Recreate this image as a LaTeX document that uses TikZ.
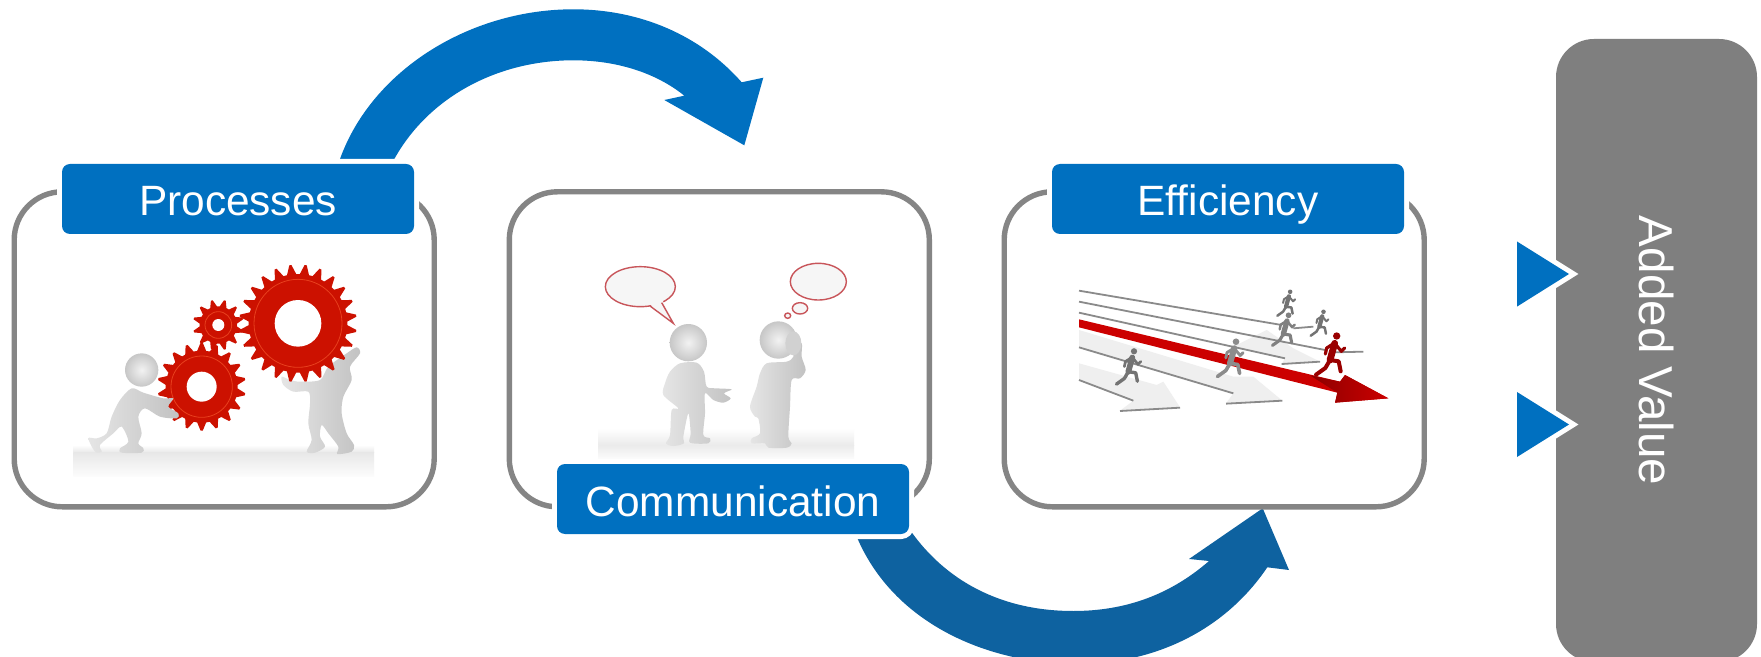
\documentclass[tikz,border=0pt]{standalone}
\usepackage{graphicx}
\usepackage{fontspec}
\setmainfont{Liberation Sans}
\definecolor{bluea}{HTML}{0070C0}
\definecolor{blueb}{HTML}{0E62A0}
\definecolor{grayline}{HTML}{858585}
\definecolor{grayfill}{HTML}{7F7F7F}
\definecolor{gearred}{HTML}{CC1100}
\definecolor{gearlight}{HTML}{E8401E}
\definecolor{bubblered}{HTML}{C8555A}
\definecolor{bubblefill}{HTML}{F6F6F6}
\definecolor{lane}{HTML}{8A8A8A}
\definecolor{laneface}{HTML}{EFEFEF}
\tikzset{
  panel/.style={draw=grayline,line width=2.7pt,rounded corners=24pt,minimum width=210pt,minimum height=157.5pt,inner sep=0pt},
  tag/.style={fill=bluea,text=white,rounded corners=4pt,minimum width=176pt,minimum height=35pt,inner sep=0pt,
    text height=17pt,text depth=0pt,
    preaction={draw=white,line width=5pt},font=\fontsize{21.2}{25}\selectfont},
  valuebox/.style={fill=grayfill,text=white,rounded corners=19pt,minimum width=100.5pt,minimum height=311.5pt,inner sep=0pt,
    font=\fontsize{23.8}{28}\selectfont},
  pointer/.style={fill=bluea,preaction={draw=white,line width=5pt,miter limit=10}},
  figure3d/.style={left color=black!10,right color=black!24,draw=none},
  headball/.style={inner color=black!5,outer color=black!22,draw=none},
  bubble/.style={draw=bubblered,line width=.7pt,fill=bubblefill},
  lanestroke/.style={draw=lane,line width=.9pt},
  zoomA/.style={shift={(0,150)},x=0.16667pt,y=-0.16667pt},
  zoomB/.style={shift={(500,180)},x=0.16667pt,y=-0.16667pt},
  zoomC/.style={shift={(1000,150)},x=0.16667pt,y=-0.16667pt}
}
% cx cy router rroot teeth rhole rring
\newcommand{\cogwheel}[7]{%
  \begin{scope}[shift={(#1,#2)}]
    \fill[gearred,line join=round] (0:#4) \foreach \i in {1,...,#5}{
       -- ({(\i-0.86)*360/#5}:#4) -- ({(\i-0.57)*360/#5}:#3) -- ({(\i-0.43)*360/#5}:#3) -- ({(\i-0.14)*360/#5}:#4) -- ({\i*360/#5}:#4)} -- cycle;
    \draw[gearlight,line width=.4pt] (0,0) circle[radius=#7];
    \fill[white] (0,0) circle[radius=#6];
  \end{scope}}
% x y scale colour
\newcommand{\runner}[4]{%
  \begin{scope}[shift={(#1,#2)},scale=#3]
    \fill[#4] (20,-72) circle[radius=11];
    \draw[#4,line width=#3*3.4pt,line cap=round,line join=round] (14,-50) -- (0,0);
    \draw[#4,line width=#3*2.0pt,line cap=round,line join=round] (0,0) -- (-14,24) -- (-42,44);
    \draw[#4,line width=#3*2.0pt,line cap=round,line join=round] (0,0) -- (26,4) -- (32,34);
    \draw[#4,line width=#3*1.6pt,line cap=round,line join=round] (14,-50) -- (34,-26) -- (44,-36);
    \draw[#4,line width=#3*1.6pt,line cap=round,line join=round] (12,-50) -- (-10,-36) -- (-14,-18);
  \end{scope}}
\begin{document}
\begin{tikzpicture}[x=0.5pt,y=-0.5pt]
\useasboundingbox (0,0) rectangle (1761,657);
\fill[white] (0,0) rectangle (1761,657);
\begin{scope}
\clip (0,0) rectangle (1761,657);
% curved block arrows
\fill[bluea] (340,159) .. controls (372,70) and (470,9.3) .. (573.3,9.3)
   .. controls (640,9.3) and (700,35) .. (741.7,82.3) -- (763.3,77.7) -- (744.3,145.3) -- (664.3,100) -- (684.3,95.7)
   .. controls (655,72) and (615,60.3) .. (573.3,60.3)
   .. controls (500,60.3) and (430,95) .. (394.3,159) -- cycle;
\fill[blueb] (856,535) .. controls (893,625) and (990,664) .. (1077,664)
   .. controls (1155,664) and (1225,630) .. (1267.3,567.3) -- (1289,570) -- (1262.7,508.3) -- (1189,559) -- (1209,561)
   .. controls (1170,595) and (1125,611) .. (1073.3,611)
   .. controls (1000,611) and (945,580) .. (910,530) -- cycle;
% panels
\node[panel] (pa) at (224.2,349.3) {};
\node[panel] (pb) at (719.3,349.3) {};
\node[panel] (pc) at (1214.2,349.3) {};

% ---------- gears picture
\begin{scope}[zoomA]
  \shade[top color=white,bottom color=black!9] (220,885) rectangle (1122,908);
  \shade[top color=black!9,bottom color=black!1] (220,908) rectangle (1122,980);
  \path[figure3d] plot[smooth cycle,tension=.5] coordinates {(845,680) (870,690) (900,695) (960,690) (985,650) (1040,610) (1070,592) (1080,610) (1050,650) (1055,690) (1030,740) (1025,790) (1040,850) (1062,885) (1055,905) (1012,912) (1015,890) (985,850) (965,825) (960,860) (975,890) (945,908) (920,905) (935,870) (925,820) (930,760) (925,725) (880,725) (850,705)};
  \cogwheel{894}{520}{176}{148}{24}{70}{132}
  \cogwheel{605}{710}{132}{108}{18}{45}{92}
  \cogwheel{655}{525}{76}{56}{12}{18}{40}
  \path[figure3d] plot[smooth cycle,tension=.5] coordinates {(395,715) (430,728) (490,745) (520,745) (505,770) (535,790) (530,805) (480,800) (435,775) (415,800) (425,850) (415,880) (430,895) (425,908) (365,908) (360,895) (385,875) (365,830) (340,850) (300,885) (305,905) (285,905) (265,865) (290,865) (320,850) (335,800) (360,750)};
  \shade[headball] (425,660) circle[radius=50];
\end{scope}

% ---------- talking picture
\begin{scope}[zoomB]
  \shade[top color=white,bottom color=black!8] (295,745) rectangle (1062,795);
  \shade[top color=black!8,bottom color=black!1] (295,795) rectangle (1062,838);
  \draw[bubble] (421,320) ellipse[x radius=105,y radius=60];
  \fill[bubblefill] (448,372) -- (520,430) -- (488,362) -- cycle;
  \draw[bubblered,line width=.7pt] (450,378) -- (520,430) -- (485,368);
  \draw[bubble] (955,305) ellipse[x radius=84,y radius=55];
  \draw[bubble] (900,385) ellipse[x radius=23,y radius=17];
  \draw[bubble] (863,407) ellipse[x radius=9,y radius=8];
  \path[figure3d] plot[smooth cycle,tension=.5] coordinates {(540,550) (590,548) (612,575) (620,620) (650,625) (695,628) (672,640) (692,655) (670,668) (640,660) (615,640) (615,700) (610,765) (630,775) (625,790) (570,788) (572,760) (565,700) (550,770) (552,790) (520,798) (498,790) (510,765) (515,690) (535,685) (490,645) (495,610) (510,575)};
  \shade[headball] (565,488) circle[radius=56];
  \path[figure3d] plot[smooth cycle,tension=.5] coordinates {(800,550) (860,545) (880,530) (880,500) (905,490) (905,530) (917,570) (900,595) (875,600) (870,680) (865,770) (875,790) (860,803) (805,803) (795,790) (755,790) (755,775) (780,760) (775,715) (765,710) (750,680) (770,620) (780,580)};
  \shade[headball] (835,480) circle[radius=56];
  \fill[black!18] (880,490) ellipse[x radius=24,y radius=36];
\end{scope}

% ---------- race picture
\begin{scope}[zoomC]
  \fill[laneface] (237,640) -- (237,690) -- (400,752) -- (360,782) -- (540,772) -- (490,695) -- (470,705) -- cycle;
  \fill[laneface] (237,592) -- (237,540) -- (700,680) -- (760,680) -- (847,752) -- (678,760) -- (700,730) -- cycle;
  \fill[laneface] (800,540) -- (880,595) -- (960,635) -- (845,642) -- (855,625) -- (700,590) -- cycle;
  \draw[lanestroke] (237,422) -- (845,525);
  \draw[lanestroke] (237,455) -- (975,600);
  \draw[lanestroke] (237,488) -- (855,625);
  \draw[lanestroke] (237,592) -- (700,730);
  \draw[lanestroke] (237,690) -- (400,752);
  \draw[lanestroke] (360,783) -- (540,773);
  \draw[lanestroke] (678,761) -- (847,752);
  \draw[lanestroke] (845,642) -- (960,635);
  \draw[lanestroke] (880,535) -- (940,530);
  \draw[lanestroke] (1000,607) -- (1090,605);
  \fill[red!80!black] (237,508) -- (1020,695) -- (1035,675) -- (1165,745) -- (1005,758) -- (1012,728) -- (237,532) -- cycle;
  \shade[left color=red!55!black,right color=red!80!black] (930,676) -- (1020,695) -- (1035,675) -- (1165,745) -- (1005,758) -- (1012,728) -- cycle;
  \runner{858}{470}{.62}{black!55}
  \runner{958}{530}{.62}{black!55}
  \runner{850}{552}{.78}{black!50}
  \runner{690}{640}{.9}{black!45}
  \runner{385}{665}{.85}{black!55}
  \runner{990}{630}{1.0}{red!60!black}
\end{scope}

% labels
\node[tag] (processes) at (238,199) {Processes};
\node[tag] (communication) at (733,499) {Communication};
\node[tag] (efficiency) at (1228,199) {Efficiency};
% value column
\node[valuebox] (value) at (1656.5,350.5) {\rotatebox{-90}{Added Value}};
\path[pointer] (1517,241.5) -- (1569,274) -- (1517,306.6) -- cycle;
\path[pointer] (1517,392) -- (1569,424.5) -- (1517,457) -- cycle;
\end{scope}
\end{tikzpicture}
\end{document}
